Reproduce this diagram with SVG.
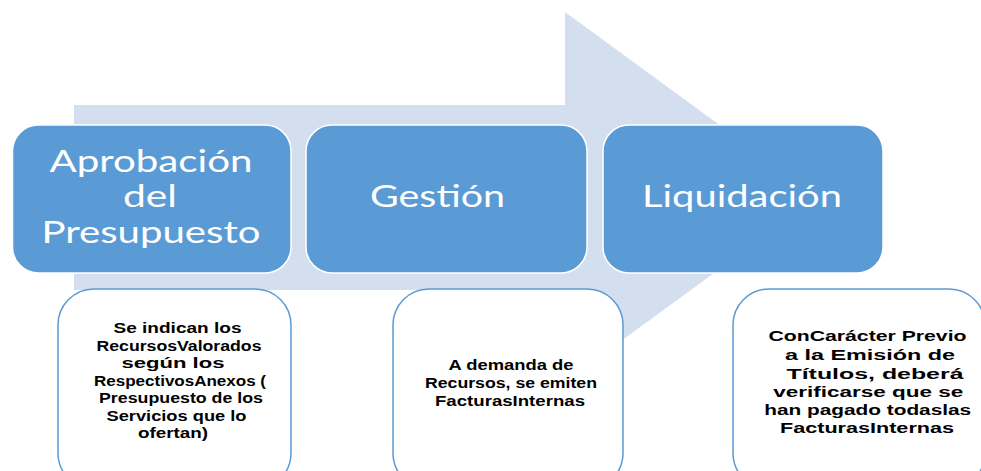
<svg xmlns="http://www.w3.org/2000/svg" width="981" height="471" viewBox="0 0 981 471">
<style>
.bg{fill:#ffffff}
.arrow{fill:#d3deef}
.step{fill:#5b9bd5;stroke:#ffffff;stroke-width:1.5}
.steptxt{font-family:Lato,"Open Sans","Liberation Sans",sans-serif;font-size:31px;fill:#ffffff;text-anchor:middle}
.note{fill:#ffffff;stroke:#5b9bd5;stroke-width:1.5}
.notetxt{font-family:"Liberation Sans",Arial,sans-serif;font-weight:bold;font-size:14.5px;fill:#000000;text-anchor:middle}
</style>
<rect class="bg" x="0" y="0" width="981" height="471"/>
<g id="background-arrow">
<path class="arrow" d="M74 105 L565 105 L565 12 L818 197 L565 382 L565 290 L74 290 Z"/>
</g>
<g id="connectors"></g>
<g id="step1">
<rect class="step" x="12.5" y="125" width="278.5" height="148" rx="26" ry="26"/>
<text class="steptxt" x="151" y="172" textLength="203" lengthAdjust="spacingAndGlyphs">Aprobación</text>
<text class="steptxt" x="150" y="207" textLength="54" lengthAdjust="spacingAndGlyphs">del</text>
<text class="steptxt" x="151" y="243" textLength="219" lengthAdjust="spacingAndGlyphs">Presupuesto</text>
</g>
<g id="step2">
<rect class="step" x="306" y="125" width="281" height="148" rx="26" ry="26"/>
<text class="steptxt" x="437.5" y="207" textLength="135" lengthAdjust="spacingAndGlyphs">Gestión</text>
</g>
<g id="step3">
<rect class="step" x="603" y="125" width="280" height="148" rx="26" ry="26"/>
<text class="steptxt" x="742" y="207" textLength="200" lengthAdjust="spacingAndGlyphs">Liquidación</text>
</g>
<g id="note1">
<rect class="note" x="58" y="289" width="233" height="200" rx="36" ry="36"/>
<text class="notetxt" x="177.5" y="333" textLength="128" lengthAdjust="spacingAndGlyphs">Se indican los</text>
<text class="notetxt" x="179" y="351" textLength="165" lengthAdjust="spacingAndGlyphs">RecursosValorados</text>
<text class="notetxt" x="173" y="368" textLength="103" lengthAdjust="spacingAndGlyphs">según los</text>
<text class="notetxt" x="180" y="386" textLength="172" lengthAdjust="spacingAndGlyphs">RespectivosAnexos (</text>
<text class="notetxt" x="181" y="403" textLength="164" lengthAdjust="spacingAndGlyphs">Presupuesto de los</text>
<text class="notetxt" x="176.5" y="421" textLength="140" lengthAdjust="spacingAndGlyphs">Servicios que lo</text>
<text class="notetxt" x="173" y="438" textLength="70" lengthAdjust="spacingAndGlyphs">ofertan)</text>
</g>
<g id="note2">
<rect class="note" x="393" y="289" width="230" height="200" rx="36" ry="36"/>
<text class="notetxt" x="511" y="370" textLength="125" lengthAdjust="spacingAndGlyphs">A demanda de</text>
<text class="notetxt" x="511" y="388" textLength="172" lengthAdjust="spacingAndGlyphs">Recursos, se emiten</text>
<text class="notetxt" x="510" y="406" textLength="150" lengthAdjust="spacingAndGlyphs">FacturasInternas</text>
</g>
<g id="note3">
<rect class="note" x="733" y="289" width="252" height="200" rx="36" ry="36"/>
<text class="notetxt" x="867.5" y="341" textLength="198" lengthAdjust="spacingAndGlyphs">ConCarácter Previo</text>
<text class="notetxt" x="870" y="360" textLength="170" lengthAdjust="spacingAndGlyphs">a la Emisión de</text>
<text class="notetxt" x="875" y="379" textLength="177" lengthAdjust="spacingAndGlyphs">Títulos, deberá</text>
<text class="notetxt" x="868.3" y="397" textLength="190" lengthAdjust="spacingAndGlyphs">verificarse que se</text>
<text class="notetxt" x="867.7" y="415" textLength="207" lengthAdjust="spacingAndGlyphs">han pagado todaslas</text>
<text class="notetxt" x="867" y="433" textLength="174" lengthAdjust="spacingAndGlyphs">FacturasInternas</text>
</g>
</svg>
